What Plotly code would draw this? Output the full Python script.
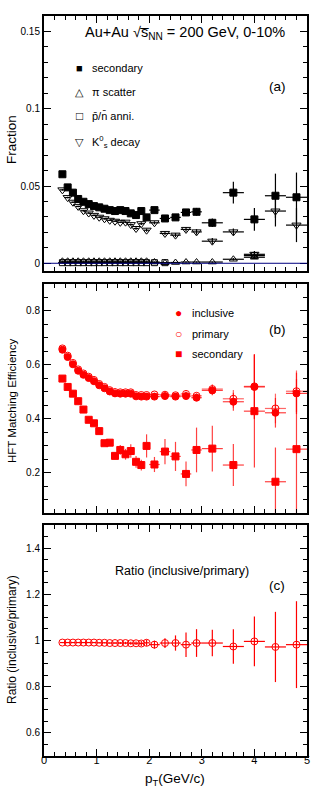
import plotly.graph_objects as go

# ---------------- data ----------------
pt = [0.35, 0.45, 0.55, 0.65, 0.75, 0.85, 0.95, 1.05, 1.15, 1.25, 1.35, 1.45, 1.55,
      1.65, 1.75, 1.85, 1.95, 2.1, 2.3, 2.5, 2.7, 2.9, 3.2, 3.6, 4.0, 4.4, 4.8]
pt_half = [0.05] * 17 + [0.1] * 5 + [0.2] * 5

# panel (a): fractions
frac_secondary = [0.0576, 0.0491, 0.0457, 0.0416, 0.0398, 0.0383, 0.0370, 0.0362, 0.0353,
                  0.0344, 0.0338, 0.0344, 0.0338, 0.0323, 0.0312, 0.0338, 0.0297,
                  0.0344, 0.0290, 0.0297, 0.0329, 0.0333, 0.0262, 0.0457, 0.0284, 0.0437, 0.0427]
frac_secondary_err = [0.0006] * 12 + [0.0007, 0.0008, 0.0009, 0.001, 0.0011,
                                      0.0012, 0.0014, 0.0016, 0.002, 0.0025, 0.0027,
                                      0.007, 0.0074, 0.0143, 0.016]
frac_pi = [0.0013] * 17 + [0.0008, 0.0003, 0.0005, 0.0008, 0.0008, 0.0008, 0.0026, 0.0039, None, None]
frac_pi_err = [0.0003] * 17 + [0.0003, 0.0003, 0.0003, 0.0004, 0.0004, 0.0004, 0.0008, 0.001, 0, 0]
frac_anni = [0.0004] * 17 + [0.0004, 0.0004, None, None, None, None, None, 0.0050, None, None]
frac_k0 = [0.0475, 0.0425, 0.0395, 0.0368, 0.0340, 0.0325, 0.0310, 0.0298, 0.0288, 0.0278,
           0.0272, 0.0265, 0.0266, 0.0250, 0.0225, 0.0256, 0.0214,
           0.0262, 0.0193, 0.0182, 0.0219, 0.0203, 0.0143, 0.0203, 0.0058, 0.0338, 0.0247]
frac_k0_err = [0.0005] * 12 + [0.0006, 0.0007, 0.0008, 0.0009, 0.001,
                               0.001, 0.0012, 0.0013, 0.0015, 0.0018, 0.002,
                               0.0022, 0.0022, 0.010, 0.011]

# panel (b): HFT matching efficiency
eff_inclusive = [0.656, 0.629, 0.602, 0.578, 0.563, 0.551, 0.539, 0.524, 0.513, 0.501,
                 0.494, 0.493, 0.493, 0.493, 0.483, 0.482, 0.482,
                 0.482, 0.484, 0.482, 0.484, 0.478, 0.505, 0.463, 0.518, 0.422, 0.494]
eff_inclusive_err = [0.003] * 12 + [0.003, 0.004, 0.004, 0.005, 0.005,
                                    0.006, 0.007, 0.008, 0.009, 0.010, 0.018,
                                    0.033, 0.12, 0.055, 0.077]
eff_primary = [0.661, 0.634, 0.607, 0.583, 0.568, 0.556, 0.544, 0.529, 0.518, 0.506,
               0.499, 0.498, 0.498, 0.498, 0.488, 0.488, 0.488,
               0.490, 0.489, 0.487, 0.492, 0.485, 0.510, 0.474, 0.520, 0.438, 0.502]
eff_primary_err = [0.003] * 12 + [0.003, 0.004, 0.004, 0.005, 0.005,
                                  0.006, 0.007, 0.008, 0.009, 0.010, 0.018,
                                  0.033, 0.12, 0.055, 0.077]
eff_secondary = [0.549, 0.518, 0.493, 0.465, 0.434, 0.396, 0.383, 0.354, 0.309, 0.311,
                 0.262, 0.284, 0.268, 0.280, 0.240, 0.228, 0.299,
                 0.230, 0.278, 0.260, 0.195, 0.284, 0.289, 0.228, 0.428, 0.166, 0.287]
eff_secondary_err = [0.004, 0.004, 0.005, 0.005, 0.006, 0.006, 0.007, 0.008, 0.009, 0.010,
                     0.012, 0.018, 0.02, 0.025, 0.022, 0.02, 0.043,
                     0.028, 0.047, 0.054, 0.046, 0.083, 0.085, 0.078, 0.209, 0.127, 0.26]

# panel (c): ratio inclusive/primary
ratio = [0.991, 0.991, 0.991, 0.991, 0.991, 0.991, 0.991, 0.990, 0.990, 0.989,
         0.989, 0.989, 0.989, 0.988, 0.988, 0.987, 0.990,
         0.982, 0.989, 0.989, 0.982, 0.989, 0.989, 0.974, 0.996, 0.972, 0.982]
ratio_err = [0.002] * 10 + [0.003, 0.004, 0.005, 0.006, 0.008, 0.011, 0.013,
                            0.017, 0.021, 0.033, 0.053, 0.060, 0.057,
                            0.075, 0.108, 0.152, 0.188]

x_ticks = [0, 1, 2, 3, 4, 5]

RED = "#ff0000"
FONT = "Liberation Sans, Arial, sans-serif"

fig = go.Figure()


def add(x, y, yerr, xaxis, yaxis, symbol, color, size=7, ecolor=None, name=""):
    fig.add_trace(go.Scatter(
        x=x, y=y, mode="markers", xaxis=xaxis, yaxis=yaxis, name=name,
        marker=dict(symbol=symbol, size=size, color=color,
                    line=dict(color=color, width=1)),
        error_y=dict(type="data", array=yerr, width=0, thickness=1.2,
                     color=ecolor or color),
        error_x=dict(type="data", array=pt_half, width=0, thickness=1.2,
                     color=ecolor or color),
        showlegend=False,
    ))


# panel (a)
add(pt, frac_pi, frac_pi_err, "x", "y", "triangle-up-open", "black", size=7)
add(pt, frac_anni, [0.0003] * len(pt), "x", "y", "square-open", "black", size=6)
add(pt, frac_k0, frac_k0_err, "x", "y", "triangle-down-open", "black", size=8)
add(pt, frac_secondary, frac_secondary_err, "x", "y", "square", "black", size=7)

# panel (b)
add(pt, eff_secondary, eff_secondary_err, "x2", "y2", "square", RED, size=7,
    ecolor="rgba(255,0,0,0.75)")
add(pt, eff_inclusive, eff_inclusive_err, "x2", "y2", "circle", RED, size=7,
    ecolor="rgba(255,0,0,0.75)")
add(pt, eff_primary, eff_primary_err, "x2", "y2", "circle-open", RED, size=7,
    ecolor="rgba(255,0,0,0.6)")

# panel (c)
add(pt, ratio, ratio_err, "x3", "y3", "circle-open", RED, size=7)

# reference line at 0 in panel (a)
fig.add_shape(type="line", xref="x", yref="y", x0=0, x1=5, y0=0, y1=0,
              line=dict(color="#000080", width=1))

# ---------------- layout ----------------
top_a, bot_a = 1.0, 0.6554
top_b, bot_b = 0.6378, 0.3284
top_c, bot_c = 0.3122, 0.0


def xax(anchor, showlabels):
    return dict(domain=[0, 1], anchor=anchor, range=[0, 5], automargin=False,
                tickvals=x_ticks, ticktext=[str(v) for v in x_ticks],
                showticklabels=showlabels, ticks="inside", ticklen=7,
                tickwidth=1, tickcolor="black", ticklabelstandoff=-7,
                minor=dict(ticks="inside", ticklen=4, dtick=0.2, tickcolor="black",
                           tickwidth=1, showgrid=False),
                showline=True, linewidth=2, linecolor="black", mirror="allticks",
                showgrid=False, zeroline=False,
                tickfont=dict(family=FONT, size=11, color="black"))


def yax(anchor, dom, rng, tickvals, ticktext, minor_dtick):
    return dict(domain=dom, anchor=anchor, range=rng, automargin=False,
                tickvals=tickvals, ticktext=ticktext,
                ticks="inside", ticklen=7, tickwidth=1, tickcolor="black",
                minor=dict(ticks="inside", ticklen=4, dtick=minor_dtick,
                           tickcolor="black", tickwidth=1, showgrid=False),
                showline=True, linewidth=2, linecolor="black", mirror="allticks",
                showgrid=False, zeroline=False,
                tickfont=dict(family=FONT, size=10, color="black"))


fig.update_layout(
    width=316, height=799,
    margin=dict(l=44, r=9, t=16, b=43, autoexpand=False),
    paper_bgcolor="white", plot_bgcolor="white",
    font=dict(family=FONT, color="black"),
    xaxis=xax("y", False),
    xaxis2=xax("y2", False),
    xaxis3=xax("y3", True),
    yaxis=yax("x", [bot_a, top_a], [-0.005, 0.16], [0, 0.05, 0.1, 0.15],
              ["0", "0.05", "0.1", "0.15"], 0.01),
    yaxis2=yax("x2", [bot_b, top_b], [0.05, 0.9], [0.2, 0.4, 0.6, 0.8],
               ["0.2", "0.4", "0.6", "0.8"], 0.05),
    yaxis3=yax("x3", [bot_c, top_c], [0.5, 1.5], [0.6, 0.8, 1.0, 1.2, 1.4],
               ["0.6", "0.8", "1", "1.2", "1.4"], 0.05),
)

H = 799.0
PT, PB = 16.0, 43.0


def py(ypx):
    return (H - PB - ypx) / (H - PT - PB)


def px(xpx):
    return (xpx - 44.0) / (316.0 - 44.0 - 9.0)


def ann(text, xpx, ypx, size, xanchor="center", angle=0, color="black"):
    fig.add_annotation(text=text, xref="paper", yref="paper", x=px(xpx), y=py(ypx),
                       xanchor=xanchor, yanchor="middle", showarrow=False,
                       textangle=angle,
                       font=dict(family=FONT, size=size, color=color))


# panel (a) texts
ann("Au+Au √s̅<sub>NN</sub> = 200 GeV, 0-10%", 185, 33, 14.5)
ann("(a)", 277, 86, 13.5)
ann("■", 79, 68, 11)
ann("secondary", 90, 68, 11, xanchor="left")
ann("△", 79, 92, 11)
ann("π scatter", 90, 92, 11, xanchor="left")
ann("□", 79, 116, 12)
ann("p̄/n̄ anni.", 90, 116, 11, xanchor="left")
ann("▽", 79, 142, 11)
ann("K<sup>0</sup><sub>s</sub> decay", 90, 142, 11, xanchor="left")

# panel (b) texts
ann("●", 178, 313, 12, color=RED)
ann("inclusive", 190, 313, 11, xanchor="left")
ann("○", 178, 334, 12, color=RED)
ann("primary", 190, 334, 11, xanchor="left")
ann("■", 178, 354, 12, color=RED)
ann("secondary", 190, 354, 11, xanchor="left")
ann("(b)", 277, 329, 13.5)

# panel (c) texts
ann("Ratio (inclusive/primary)", 182, 571, 12.5)
ann("(c)", 277, 585, 13.5)

# axis titles
ann("Fraction", 12, 140, 13.5, angle=-90)
ann("HFT Matching Efficiency", 12, 401, 11.5, angle=-90)
ann("Ratio (inclusive/primary)", 12, 640, 12, angle=-90)
ann("p<sub>T</sub>(GeV/c)", 175, 779, 13.5)

fig.write_html("out.html",
               config={"displayModeBar": False},
               post_script="document.body.style.margin='0';"
                           "document.body.style.overflow='hidden';")
